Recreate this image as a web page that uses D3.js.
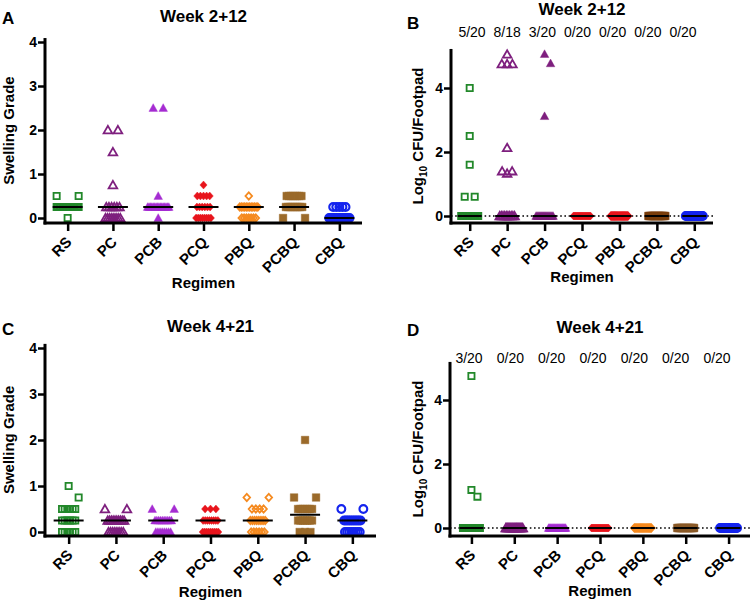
<!DOCTYPE html>
<html><head><meta charset="utf-8">
<script src="https://cdn.jsdelivr.net/npm/d3@7"></script>
<style>body{margin:0;background:#fff}svg{display:block}</style>
</head><body><svg id="c" width="750" height="602"></svg>
<script>
// ---------------- DATA ----------------
const regimens = ["RS","PC","PCB","PCQ","PBQ","PCBQ","CBQ"];
const swellingTicks = [0,1,2,3,4];
const cfuTicks = [0,2,4];
const ratiosWeek2 = ["5/20","8/18","3/20","0/20","0/20","0/20","0/20"];
const ratiosWeek4 = ["3/20","0/20","0/20","0/20","0/20","0/20","0/20"];

// Panel A: Week 2+12, swelling grade (one list per regimen)
const swellingWeek2 = [
  [0.5,0.5,0.25,0.25,0.25,0.25,0.25,0.25,0.25,0.25,0.25,0.25,0.25,0.25,0.25,0.25,0.25,0.25,0.25,0],
  [2,2,1.5,0.75,0.25,0.25,0.25,0.25,0.25,0.25,0,0,0,0,0,0,0,0],
  [2.5,2.5,0.5,0.25,0.25,0.25,0.25,0.25,0.25,0.25,0.25,0.25,0.25,0.25,0.25,0.25,0.25,0.25,0.25,0],
  [0.75,0.5,0.5,0.5,0.5,0.5,0.25,0.25,0.25,0.25,0.25,0.25,0,0,0,0,0,0,0,0],
  [0.5,0.25,0.25,0.25,0.25,0.25,0.25,0.25,0.25,0.25,0.25,0.25,0.25,0,0,0,0,0,0,0],
  [0.5,0.5,0.5,0.5,0.5,0.5,0.5,0.5,0.25,0.25,0.25,0.25,0.25,0.25,0.25,0.25,0.25,0.25,0,0],
  [0.25,0.25,0.25,0.25,0.25,0,0,0,0,0,0,0,0,0,0,0,0,0,0,0]
];
// Panel B: Week 2+12, log10 CFU / footpad
const cfuWeek2 = [
  [4.0,2.5,1.6,0.6,0.6,0,0,0,0,0,0,0,0,0,0,0,0,0,0,0],
  [5.05,4.75,4.75,4.75,2.13,1.4,1.33,1.4,0,0,0,0,0,0,0,0,0,0],
  [5.06,4.77,3.12,0,0,0,0,0,0,0,0,0,0,0,0,0,0,0,0,0],
  [0,0,0,0,0,0,0,0,0,0,0,0,0,0,0,0,0,0,0,0],
  [0,0,0,0,0,0,0,0,0,0,0,0,0,0,0,0,0,0,0,0],
  [0,0,0,0,0,0,0,0,0,0,0,0,0,0,0,0,0,0,0,0],
  [0,0,0,0,0,0,0,0,0,0,0,0,0,0,0,0,0,0,0,0]
];
// Panel C: Week 4+21, swelling grade
const swellingWeek4 = [
  [1.0,0.75,0.5,0.5,0.5,0.5,0.5,0.5,0.25,0.25,0.25,0.25,0.25,0.25,0,0,0,0,0,0],
  [0.5,0.5,0.25,0.25,0.25,0.25,0.25,0.25,0.25,0.25,0.25,0.25,0,0,0,0,0,0,0,0],
  [0.5,0.5,0.25,0.25,0.25,0.25,0.25,0.25,0.25,0.25,0.25,0.25,0,0,0,0,0,0,0,0],
  [0.5,0.5,0.5,0.25,0.25,0.25,0.25,0.25,0.25,0.25,0.25,0,0,0,0,0,0,0,0,0],
  [0.75,0.75,0.5,0.5,0.5,0.5,0.25,0.25,0.25,0.25,0.25,0.25,0.25,0.25,0,0,0,0,0,0],
  [2.0,0.75,0.75,0.5,0.5,0.5,0.5,0.5,0.5,0.5,0.25,0.25,0.25,0.25,0.25,0.25,0.25,0,0,0],
  [0.5,0.5,0.25,0.25,0.25,0.25,0.25,0.25,0.25,0.25,0.25,0.25,0,0,0,0,0,0,0,0]
];
// Panel D: Week 4+21, log10 CFU / footpad
const cfuWeek4 = [
  [4.75,1.19,0.98,0,0,0,0,0,0,0,0,0,0,0,0,0,0,0,0,0],
  [0,0,0,0,0,0,0,0,0,0,0,0,0,0,0,0,0,0,0,0],
  [0,0,0,0,0,0,0,0,0,0,0,0,0,0,0,0,0,0,0,0],
  [0,0,0,0,0,0,0,0,0,0,0,0,0,0,0,0,0,0,0,0],
  [0,0,0,0,0,0,0,0,0,0,0,0,0,0,0,0,0,0,0,0],
  [0,0,0,0,0,0,0,0,0,0,0,0,0,0,0,0,0,0,0,0],
  [0,0,0,0,0,0,0,0,0,0,0,0,0,0,0,0,0,0,0,0]
];

// ---------------- STYLE ----------------
const FONT = '"Liberation Sans", Arial, Helvetica, sans-serif';
const shapes = ["oSquare","oTriangle","fTriangle","fDiamond","oDiamond","fSquare","oCircle"];
const colorsMain = ["#22882a","#7e1f7e","#a52cd2","#e8141c","#f58a1f","#9b6a2a","#1424ee"];
const colorsB    = ["#22882a","#7e1f7e","#7e1f7e","#e8141c","#e8141c","#7a3e0c","#1424ee"];
const colorsD    = ["#22882a","#7e1f7e","#a52cd2","#e8141c","#f58a1f","#8a5a28","#1424ee"];

const swarmAC = {maxHalf:11, baseHalf:5, growth:0.4, adj:13, singleShift:10};
const swarmBD = {maxHalf:8.5, baseHalf:5, growth:0.3, adj:12, singleShift:6};

const panels = [
  {letter:"A", title:"Week 2+12", data:swellingWeek2, ticks:swellingTicks, cfu:false, colors:colorsMain,
   x0:45, x1:362, yZero:218, yFour:42, yMin:-0.114, yMax:4.09, letterXY:[2,24], titleY:22, xLabY:288, yLabX:14,
   swarm:swarmAC, medHalf:15},
  {letter:"B", title:"Week 2+12", data:cfuWeek2, ticks:cfuTicks, cfu:true, colors:colorsB,
   x0:451, x1:713, yZero:216, yFour:88, yMin:-0.22, yMax:5.22, letterXY:[407,29], titleY:15, xLabY:282, yLabX:423,
   swarm:swarmBD, medHalf:12, ratios:ratiosWeek2, ratioRange:[472,683], ratioY:37},
  {letter:"C", title:"Week 4+21", data:swellingWeek4, ticks:swellingTicks, cfu:false, colors:colorsMain,
   x0:45, x1:376, yZero:532, yFour:348, yMin:-0.087, yMax:4.09, letterXY:[2,335], titleY:332, xLabY:597, yLabX:14,
   swarm:swarmAC, medHalf:15},
  {letter:"D", title:"Week 4+21", data:cfuWeek4, ticks:cfuTicks, cfu:true, colors:colorsD,
   x0:450, x1:750, yZero:528, yFour:400, yMin:-0.25, yMax:5.19, letterXY:[407,336], titleY:333, xLabY:596, yLabX:423,
   swarm:swarmBD, medHalf:12, ratios:ratiosWeek4, ratioRange:[469,717], ratioY:363}
];

const svg = d3.select("#c");

function markerPath(shape) {
  switch (shape) {
    case "oSquare":   return "M-3.1,-3.1h6.2v6.2h-6.2Z";
    case "fSquare":   return "M-3.8,-3.8h7.6v7.6h-7.6Z";
    case "oTriangle": return "M0,-4.1L4.3,3.3L-4.3,3.3Z";
    case "fTriangle": return "M0,-4.3L4.3,3.4L-4.3,3.4Z";
    case "fDiamond":  return "M0,-4L3.6,0L0,4L-3.6,0Z";
    case "oDiamond":  return "M0,-3.6L3.3,0L0,3.6L-3.3,0Z";
    case "oCircle":   return "M-3.9,0a3.9,3.9 0 1,0 7.8,0a3.9,3.9 0 1,0 -7.8,0Z";
  }
}

// GraphPad-like scatter spreading of tied values
function layoutGroup(values, y, p) {
  const rows = d3.groups(values, v => v).map(([v, arr]) => ({v, n: arr.length, py: y(v)}));
  rows.sort((a, b) => b.v - a.v);
  const out = [];
  const singles = [];
  rows.forEach(r => {
    if (r.n === 1) {
      let off = 0;
      const near = singles.find(s => Math.abs(s.py - r.py) < p.adj);
      if (near) off = near.off === 0 ? p.singleShift : 0;
      r.off = off;
      singles.push(r);
      out.push({v: r.v, dx: off});
    } else {
      const dense = rows.some(o => o !== r && Math.abs(o.py - r.py) < p.adj && o.n >= 4);
      const half = (r.n === 2 && dense) ? p.maxHalf : Math.min(p.maxHalf, p.baseHalf + p.growth * (r.n - 2));
      for (let i = 0; i < r.n; i++) out.push({v: r.v, dx: -half + i * (2 * half / (r.n - 1))});
    }
  });
  return out;
}

panels.forEach(P => {
  const x = d3.scalePoint().domain(regimens).range([P.x0, P.x1]).padding(0.5);
  const y = d3.scaleLinear().domain([0, 4]).range([P.yZero, P.yFour]);
  const g = svg.append("g");
  const axisY = y(P.yMin);

  // panel letter & title
  g.append("text").attr("x", P.letterXY[0]).attr("y", P.letterXY[1]).text(P.letter)
    .attr("font-family", FONT).attr("font-weight", "bold").attr("font-size", 17);
  g.append("text").attr("x", (P.x0 + P.x1) / 2).attr("y", P.titleY).text(P.title)
    .attr("text-anchor", "middle").attr("font-family", FONT).attr("font-weight", "bold").attr("font-size", 17);

  // positive-count ratio labels
  if (P.ratios) {
    const xr = d3.scalePoint().domain(regimens).range(P.ratioRange);
    g.selectAll(".ratio").data(regimens).join("text")
      .attr("x", d => xr(d)).attr("y", P.ratioY).attr("text-anchor", "middle")
      .attr("font-family", FONT).attr("font-size", 14).text((d, i) => P.ratios[i]);
  }

  // dotted zero line for CFU panels
  if (P.cfu) {
    g.append("line").attr("x1", P.x0).attr("x2", P.x1).attr("y1", y(0)).attr("y2", y(0))
      .attr("stroke", "#000").attr("stroke-width", 1.6).attr("stroke-dasharray", "1.6,2.6");
  }

  // markers
  P.data.forEach((vals, gi) => {
    const cx = x(regimens[gi]);
    const pts = layoutGroup(vals, y, P.swarm);
    const shape = shapes[gi];
    const open = shape[0] === "o";
    const col = P.colors[gi];
    g.append("g").selectAll("path").data(pts).join("path")
      .attr("d", markerPath(shape))
      .attr("transform", d => `translate(${cx + d.dx},${y(d.v)})`)
      .attr("fill", open ? "none" : col)
      .attr("stroke", col)
      .attr("stroke-width", open ? (shape === "oCircle" ? 2.1 : 1.8) : 0.4);
  });

  // median lines
  P.data.forEach((vals, gi) => {
    const cx = x(regimens[gi]);
    const m = d3.median(vals);
    g.append("line").attr("x1", cx - P.medHalf).attr("x2", cx + P.medHalf)
      .attr("y1", y(m)).attr("y2", y(m)).attr("stroke", "#000").attr("stroke-width", 2);
  });

  // y axis
  const ya = g.append("g").attr("transform", `translate(${P.x0},0)`)
    .call(d3.axisLeft(y).tickValues(P.ticks).tickSize(7).tickSizeOuter(0).tickPadding(1).tickFormat(d3.format("d")));
  ya.select(".domain").remove();
  ya.selectAll(".tick line").attr("stroke", "#000").attr("stroke-width", 2.5);
  ya.selectAll(".tick text").attr("font-family", FONT).attr("font-weight", "bold").attr("font-size", 14).attr("fill", "#000");
  g.append("line").attr("x1", P.x0).attr("x2", P.x0).attr("y1", y(P.yMax)).attr("y2", axisY + 1.5)
    .attr("stroke", "#000").attr("stroke-width", 3);

  // x axis: ticks from d3 axis, 45-degree labels from the same scale
  const xa = g.append("g").attr("transform", `translate(0,${axisY})`)
    .call(d3.axisBottom(x).tickSize(8).tickSizeOuter(0).tickFormat(""));
  xa.select(".domain").remove();
  xa.selectAll(".tick line").attr("stroke", "#000").attr("stroke-width", 2.5);
  xa.selectAll(".tick text").remove();
  g.selectAll(".xlab").data(regimens).join("text")
    .attr("class", "xlab")
    .attr("transform", d => `translate(${x(d) + 5},${axisY + 20}) rotate(-45)`)
    .attr("text-anchor", "end")
    .attr("font-family", FONT).attr("font-weight", "bold").attr("font-size", 15).attr("fill", "#000")
    .text(d => d);
  g.append("line").attr("x1", P.x0 - 1.5).attr("x2", P.x1).attr("y1", axisY).attr("y2", axisY)
    .attr("stroke", "#000").attr("stroke-width", 3);

  // axis titles
  g.append("text").attr("x", (P.x0 + P.x1) / 2).attr("y", P.xLabY).attr("text-anchor", "middle")
    .attr("font-family", FONT).attr("font-weight", "bold").attr("font-size", 15).text("Regimen");
  const cy = (y(P.yMax) + axisY) / 2;
  const yl = g.append("text").attr("transform", `translate(${P.yLabX},${cy}) rotate(-90)`)
    .attr("text-anchor", "middle").attr("font-family", FONT).attr("font-weight", "bold").attr("font-size", 15);
  if (P.cfu) {
    yl.append("tspan").text("Log");
    yl.append("tspan").attr("font-size", 10).attr("dy", 4).text("10");
    yl.append("tspan").attr("dy", -4).text(" CFU/Footpad");
  } else {
    yl.text("Swelling Grade");
  }
});
</script>
</body></html>
